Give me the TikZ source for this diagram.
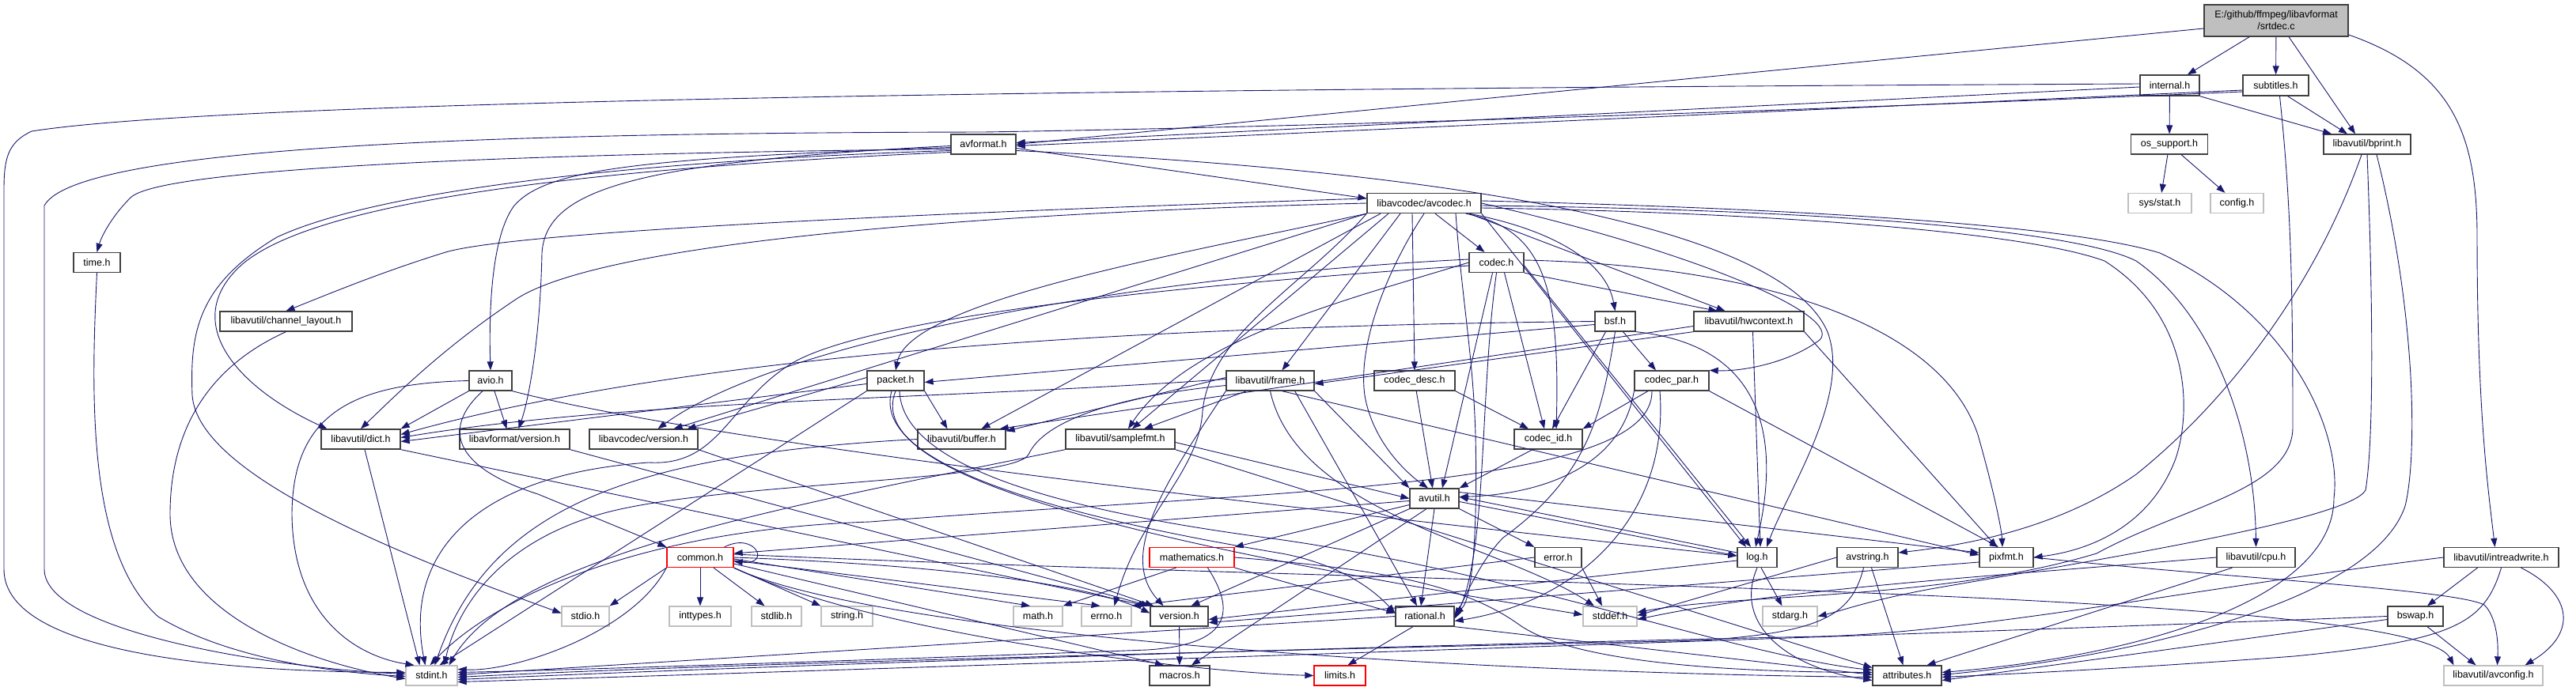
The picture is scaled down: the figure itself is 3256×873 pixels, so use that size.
\documentclass[tikz,border=0pt]{standalone}
\usepackage{fontspec}
\setmainfont{Liberation Sans}
\usetikzlibrary{arrows.meta}
\definecolor{ec}{RGB}{25,25,112}
\definecolor{nbc}{RGB}{64,64,64}
\definecolor{gbc}{RGB}{191,191,191}
\definecolor{srcf}{RGB}{191,191,191}
\begin{document}
\begin{tikzpicture}[x=1pt,y=-1pt,
  nd/.style={draw=nbc, line width=1.3pt, fill=white, inner sep=0pt, minimum height=25pt, minimum width=#1, font=\fontsize{12.5}{15}\selectfont},
  gry/.style={draw=gbc},
  redb/.style={draw=red},
  e/.style={draw=ec, line width=0.9pt, -{Triangle[length=11pt,width=8pt]}}]
\fill[white] (0,0) rectangle (3256,873);
\useasboundingbox (0,0) rectangle (3256,873);
% ---------------- nodes
\node[nd=182, minimum height=40, fill=srcf, align=center] (src) at (2877,26) {E:/github/ffmpeg/libavformat\\/srtdec.c};
\node[nd=75, minimum height=26] (internal) at (2742.5,108) {internal.h};
\node[nd=83, minimum height=26] (subtitles) at (2876.5,108) {subtitles.h};
\node[nd=97] (ossupport) at (2742,182.5) {os\_support.h};
\node[nd=110] (bprint) at (2992,182.5) {libavutil/bprint.h};
\node[nd=80, gry] (sysstat) at (2730,257) {sys/stat.h};
\node[nd=67, gry] (config) at (2827.5,257) {config.h};
\node[nd=82] (avformat) at (1243,182.5) {avformat.h};
\node[nd=144] (avcodec) at (1800,257) {libavcodec/avcodec.h};
\node[nd=69] (codec) at (1891.5,332) {codec.h};
\node[nd=51] (bsf) at (2041.5,406.5) {bsf.h};
\node[nd=139] (hwcontext) at (2210.5,406.5) {libavutil/hwcontext.h};
\node[nd=59] (time) at (122.5,332) {time.h};
\node[nd=167] (chlayout) at (361.5,406.5) {libavutil/channel\_layout.h};
\node[nd=54] (avio) at (620,481.5) {avio.h};
\node[nd=100] (dict) at (456,555.5) {libavutil/dict.h};
\node[nd=139] (lfversion) at (650.5,555.5) {libavformat/version.h};
\node[nd=137] (lcversion) at (813.5,555.5) {libavcodec/version.h};
\node[nd=60, gry] (stdio) at (740,779.5) {stdio.h};
\node[nd=65, gry] (stdint) at (545.5,854.5) {stdint.h};
\node[nd=72] (packet) at (1132,481.5) {packet.h};
\node[nd=111] (buffer) at (1215.5,555.5) {libavutil/buffer.h};
\node[nd=138] (samplefmt) at (1416,555.5) {libavutil/samplefmt.h};
\node[nd=111] (frame) at (1605.5,481.5) {libavutil/frame.h};
\node[nd=84, redb] (common) at (885,705) {common.h};
\node[nd=78, gry] (inttypes) at (885,779.5) {inttypes.h};
\node[nd=63, gry] (stdlib) at (981.5,779.5) {stdlib.h};
\node[nd=65, gry] (string) at (1070.5,779.5) {string.h};
\node[nd=62, gry] (math) at (1312,779.5) {math.h};
\node[nd=63, gry] (errno) at (1398.5,779.5) {errno.h};
\node[nd=73] (version) at (1490.5,779.5) {version.h};
\node[nd=107, redb] (mathematics) at (1506.5,705) {mathematics.h};
\node[nd=76] (macros) at (1491,854.5) {macros.h};
\node[nd=102] (codecdesc) at (1788,481.5) {codec\_desc.h};
\node[nd=94] (codecpar) at (2113,481.5) {codec\_par.h};
\node[nd=86] (codecid) at (1957,555.5) {codec\_id.h};
\node[nd=62] (avutil) at (1813,630.5) {avutil.h};
\node[nd=59] (error) at (1969.5,705) {error.h};
\node[nd=50] (log) at (2221,705) {log.h};
\node[nd=77] (avstring) at (2360.5,705) {avstring.h};
\node[nd=74] (rational) at (1801,779.5) {rational.h};
\node[nd=68, gry] (stddef) at (2035,779.5) {stddef.h};
\node[nd=69, gry] (stdarg) at (2262.5,779.5) {stdarg.h};
\node[nd=65, redb] (limits) at (1693.5,854.5) {limits.h};
\node[nd=87] (attributes) at (2410.5,854.5) {attributes.h};
\node[nd=68] (pixfmt) at (2536,705) {pixfmt.h};
\node[nd=99] (cpu) at (2851.5,705) {libavutil/cpu.h};
\node[nd=145] (intreadwrite) at (3161.5,705) {libavutil/intreadwrite.h};
\node[nd=70] (bswap) at (3053,779.5) {bswap.h};
\node[nd=125, gry] (avconfig) at (3151.5,854.5) {libavutil/avconfig.h};
% ---------------- edges
% srtdec.c
\draw[e] ([yshift=-10pt]src.west) -- (avformat.east);
\draw[e] (src) -- (internal);
\draw[e] (src) -- (subtitles);
\draw[e] ([xshift=16pt]src.south) -- ([xshift=-15pt]bprint.north);
\draw[e] ([yshift=-18pt]src.east) .. controls (3100,90) and (3131,170) .. (3131,300) .. controls (3131,520) and (3145,620) .. ([xshift=-8pt]intreadwrite.north);
% internal.h
\draw[e] ([yshift=-2pt]internal.west) -- ([yshift=2pt]avformat.east);
\draw[e] (internal) -- (ossupport);
\draw[e] (internal.south east) -- ([xshift=-45pt]bprint.north);
\draw[e] ([yshift=2pt]internal.west) .. controls (1500,112) and (300,125) .. (40,166) .. controls (10,180) and (5,200) .. (5,240) -- (5,720) .. controls (5,830) and (300,850) .. ([yshift=4pt]stdint.west);
% subtitles.h
\draw[e] ([yshift=-6pt]subtitles.west) -- ([yshift=-2pt]avformat.east);
\draw[e] ([xshift=15pt]subtitles.south) -- ([xshift=-25pt]bprint.north);
\draw[e] ([yshift=-8pt]subtitles.west) .. controls (2400,135) and (1700,160) .. (1243,167) .. controls (700,168) and (100,180) .. (56,260) -- (56,720) .. controls (56,800) and (350,845) .. ([yshift=2pt]stdint.west);
\draw[e] ([xshift=5pt]subtitles.south) .. controls (2895,250) and (2898,350) .. (2898,540) .. controls (2898,620) and (2760,640) .. (2650,700) .. controls (2450,760) and (2200,750) .. ([yshift=5pt]stddef.east);
% os_support.h
\draw[e] (ossupport) -- (sysstat);
\draw[e] (ossupport) -- (config);
% bprint.h
\draw[e] ([xshift=-7pt]bprint.south) .. controls (2920,380) and (2800,520) .. (2700,600) .. controls (2600,670) and (2480,690) .. ([yshift=6pt]avstring.east);
\draw[e] (bprint.south) .. controls (3000,400) and (3000,560) .. (2990,620) .. controls (2970,655) and (2700,700) .. (2440,745) .. controls (2360,760) and (2330,772) .. (stdarg.east);
\draw[e] ([xshift=12pt]bprint.south) .. controls (3055,400) and (3055,580) .. (3040,640) .. controls (3000,760) and (2700,830) .. ([yshift=1pt]attributes.east);
% avformat.h
\draw[e] ([yshift=-5pt]avformat.east) -- ([yshift=6pt]avcodec.west);
\draw[e] ([yshift=-8pt]avformat.east) .. controls (1800,215) and (2250,280) .. (2310,420) .. controls (2340,500) and (2260,620) .. ([xshift=12pt]log.north);
\draw[e] ([yshift=-6pt]avformat.west) .. controls (600,195) and (200,215) .. (165,250) .. controls (140,275) and (128,300) .. (time.north);
\draw[e] ([yshift=-8pt]avformat.west) .. controls (900,200) and (500,230) .. (350,300) .. controls (250,360) and (240,420) .. (243,500) .. controls (250,600) and (500,700) .. ([yshift=4pt]stdio.west);
\draw[e] ([yshift=-10pt]avformat.west) .. controls (700,215) and (380,260) .. (300,340) .. controls (230,410) and (300,490) .. ([xshift=8pt]dict.north west);
\draw[e] ([yshift=-4pt]avformat.west) .. controls (800,200) and (690,215) .. (650,260) .. controls (620,300) and (618,400) .. (avio.north);
\draw[e] ([yshift=-2pt]avformat.west) .. controls (800,205) and (690,240) .. (685,320) .. controls (683,420) and (670,500) .. ([xshift=5pt]lfversion.north);
% avio.h
\draw[e] (avio.west) .. controls (450,485) and (370,520) .. (369,650) .. controls (370,780) and (450,830) .. ([xshift=-22pt]stdint.north);
\draw[e] ([xshift=-10pt]avio.south) .. controls (560,540) and (570,590) .. (680,625) -- (common.north west);
\draw[e] (avio.south west) -- (dict.north east);
\draw[e] (avio.south east) .. controls (900,560) and (1600,640) .. ([yshift=2pt]log.west);
\draw[e] ([xshift=5pt]avio.south) -- ([xshift=-10pt]lfversion.north);
% version headers
\draw[e] (lfversion.south east) -- (version.north west);
\draw[e] (lcversion.south east) -- ([xshift=5pt]version.north west);
% avcodec.h
\draw[e] ([xshift=-15pt]avcodec.south) -- (codecdesc.north);
\draw[e] (avcodec.south) .. controls (1760,330) and (1715,430) .. (1725,500) .. controls (1735,560) and (1780,600) .. ([xshift=-8pt]avutil.north);
\draw[e] ([xshift=14pt]avcodec.south) -- ([xshift=-15pt]codec.north);
\draw[e] ([xshift=-20pt]avcodec.south east) .. controls (1950,290) and (1972,360) .. ([xshift=10pt]codecid.north);
\draw[e] ([xshift=-16pt]avcodec.south east) .. controls (1960,290) and (2030,330) .. (bsf.north);
\draw[e] ([xshift=-16pt]avcodec.south east) -- ([xshift=-30pt]hwcontext.north);
\draw[e] (avcodec.east) .. controls (2150,320) and (2330,400) .. (2300,430) .. controls (2260,460) and (2200,470) .. (codecpar.north east);
\draw[e] ([yshift=3pt]avcodec.east) .. controls (2200,262) and (2600,280) .. (2730,320) .. controls (2900,400) and (2960,550) .. (2950,630) .. controls (2950,760) and (2700,830) .. ([yshift=4pt]attributes.east);
\draw[e] ([yshift=-3pt]avcodec.east) .. controls (2300,265) and (2620,290) .. (2700,330) .. controls (2800,400) and (2850,550) .. (cpu.north);
\draw[e] ([yshift=-6pt]avcodec.east) .. controls (2200,268) and (2550,290) .. (2660,330) .. controls (2770,400) and (2770,520) .. (2750,580) .. controls (2720,660) and (2650,695) .. (pixfmt.east);
\draw[e] (avcodec.south east) -- ([xshift=-14pt]log.north);
\draw[e] (avcodec.south west) .. controls (1500,320) and (1150,380) .. (packet.north);
\draw[e] ([xshift=-30pt]avcodec.south) -- ([xshift=15pt]frame.north);
\draw[e] ([xshift=-45pt]avcodec.south) -- ([xshift=15pt]samplefmt.north);
\draw[e] ([xshift=-55pt]avcodec.south) -- ([xshift=25pt]buffer.north);
\draw[e] (avcodec.south west) .. controls (1650,360) and (1530,420) .. (1520,520) .. controls (1515,600) and (1440,650) .. ([xshift=10pt]errno.north);
\draw[e] (avcodec.south west) -- ([xshift=38pt]lcversion.north);
\draw[e] ([yshift=6pt]avcodec.west) .. controls (1300,265) and (650,290) .. (560,320) .. controls (480,345) and (420,370) .. (chlayout.north);
\draw[e] (avcodec.west) .. controls (1200,270) and (750,310) .. (650,380) .. controls (560,440) and (500,500) .. (dict.north);
\draw[e] ([xshift=40pt]avcodec.south) .. controls (1848,380) and (1862,450) .. (1865,550) .. controls (1868,680) and (1860,760) .. ([yshift=3pt]rational.east);
% codec.h
\draw[e] ([xshift=-5pt]codec.south) -- ([xshift=10pt]avutil.north);
\draw[e] (codec.south east) -- ([xshift=-40pt]hwcontext.north);
\draw[e] ([yshift=-4pt]codec.east) -- ([xshift=-8pt]log.north);
\draw[e] ([yshift=3pt]codec.east) .. controls (2200,335) and (2450,400) .. (2500,550) .. controls (2520,620) and (2530,670) .. ([xshift=-5pt]pixfmt.north);
\draw[e] (codec.south) .. controls (1870,500) and (1880,700) .. ([yshift=-3pt]rational.east);
\draw[e] (codec.west) .. controls (1700,380) and (1500,430) .. ([xshift=10pt]samplefmt.north);
\draw[e] ([xshift=10pt]codec.south) -- ([xshift=-5pt]codecid.north);
\draw[e] ([yshift=4pt]codec.west) .. controls (1500,345) and (1000,420) .. ([xshift=18pt]lcversion.north);
\draw[e] ([yshift=-4pt]codec.west) .. controls (1500,360) and (1100,400) .. (1000,460) .. controls (920,510) and (910,590) .. (820,585) .. controls (600,600) and (510,700) .. ([xshift=-8pt]stdint.north);
% bsf.h
\draw[e] (bsf.west) .. controls (1500,412) and (900,440) .. ([yshift=6pt]dict.east);
\draw[e] (bsf.south east) .. controls (2260,440) and (2240,600) .. ([xshift=-2pt]log.north);
\draw[e] (bsf.south) .. controls (2025,520) and (2010,600) .. (1900,680) .. controls (1870,710) and (1850,760) .. (rational.east);
\draw[e] ([xshift=-12pt]bsf.south) -- ([xshift=5pt]codecid.north);
\draw[e] ([xshift=10pt]bsf.south) -- ([xshift=-20pt]codecpar.north);
\draw[e] ([yshift=-4pt]bsf.west) -- ([yshift=-2pt]packet.east);
% codec_desc.h, codec_id.h
\draw[e] (codecdesc) -- (avutil);
\draw[e] (codecdesc.south east) -- ([xshift=-25pt]codecid.north);
\draw[e] ([xshift=-20pt]codecid.south) -- (avutil.north east);
% codec_par.h
\draw[e] (codecpar.south west) .. controls (2050,590) and (1950,625) .. ([yshift=2pt]avutil.east);
\draw[e] ([xshift=-15pt]codecpar.south) .. controls (2110,650) and (2000,760) .. ([yshift=-6pt]rational.east);
\draw[e] ([xshift=-25pt]codecpar.south) .. controls (2090,620) and (1600,620) .. (1100,660) .. controls (800,670) and (620,760) .. ([xshift=-2pt]stdint.north);
\draw[e] (codecpar.south east) -- ([xshift=-10pt]pixfmt.north);
\draw[e] ([xshift=-30pt]codecpar.south) -- (codecid.north east);
% packet.h
\draw[e] (packet.south) .. controls (1090,600) and (1400,680) .. ([yshift=2pt]stddef.west);
\draw[e] (packet.south west) -- ([xshift=10pt]stdint.north);
\draw[e] ([xshift=5pt]packet.south) .. controls (1140,580) and (1300,640) .. (1600,680) .. controls (1900,720) and (2200,830) .. ([yshift=7pt]attributes.west);
\draw[e] (packet.south east) -- ([xshift=-18pt]buffer.north);
\draw[e] ([yshift=-4pt]packet.west) -- ([yshift=-3pt]dict.east);
\draw[e] ([xshift=-5pt]packet.south) .. controls (1100,590) and (1350,655) .. (1620,700) .. controls (1700,715) and (1740,750) .. ([yshift=4pt]rational.west);
\draw[e] ([yshift=4pt]packet.west) -- ([xshift=55pt]lcversion.north);
% hwcontext.h
\draw[e] ([yshift=-6pt]hwcontext.west) -- ([xshift=-8pt]buffer.north east);
\draw[e] (hwcontext.south west) -- ([yshift=-4pt]frame.east);
\draw[e] ([xshift=5pt]hwcontext.south) -- ([xshift=4pt]log.north);
\draw[e] (hwcontext.south east) -- ([xshift=-12pt]pixfmt.north);
% frame.h
\draw[e] (frame.south) .. controls (1640,650) and (1900,690) .. ([xshift=-20pt]stddef.north);
\draw[e] ([yshift=-6pt]frame.west) .. controls (1420,500) and (1320,530) .. (1300,575) .. controls (1280,610) and (900,610) .. (760,650) .. controls (620,690) and (575,780) .. ([xshift=16pt]stdint.north);
\draw[e] (frame.south east) -- (avutil.north west);
\draw[e] ([yshift=4pt]frame.west) -- ([yshift=-3pt]buffer.north east);
\draw[e] ([yshift=2pt]frame.west) .. controls (1200,505) and (800,505) .. ([yshift=2pt]dict.east);
\draw[e] ([xshift=-25pt]frame.south east) -- ([xshift=-10pt]rational.north);
\draw[e] ([xshift=-30pt]frame.south) -- ([xshift=30pt]samplefmt.north);
\draw[e] ([xshift=15pt]frame.south) -- ([yshift=3pt]pixfmt.west);
\draw[e] (frame.south west) .. controls (1480,600) and (1410,700) .. ([xshift=-20pt]version.north);
% samplefmt.h, buffer.h, channel_layout.h, time.h, dict.h
\draw[e] (samplefmt.south west) .. controls (1000,640) and (650,700) .. ([xshift=22pt]stdint.north);
\draw[e] ([yshift=-4pt]samplefmt.east) -- (avutil.west);
\draw[e] (samplefmt.south east) -- ([yshift=10pt]attributes.west);
\draw[e] (buffer.west) .. controls (800,575) and (620,640) .. ([xshift=4pt]stdint.north);
\draw[e] (chlayout.south) .. controls (250,470) and (215,560) .. (215,650) .. controls (215,780) and (400,840) .. ([yshift=-4pt]stdint.west);
\draw[e] (time.south) .. controls (115,500) and (110,700) .. (200,780) .. controls (300,840) and (450,852) .. ([yshift=-1pt]stdint.west);
\draw[e] ([xshift=5pt]dict.south) -- ([xshift=-15pt]stdint.north);
\draw[e] (dict.south east) -- ([xshift=-3pt]version.north west);
% avutil.h
\draw[e] ([yshift=-3pt]avutil.west) -- ([yshift=5pt]common.east);
\draw[e] (avutil.south east) -- (error.north west);
\draw[e] (avutil.south) -- ([xshift=-5pt]rational.north);
\draw[e] (avutil.south west) -- ([xshift=15pt]version.north);
\draw[e] ([xshift=-10pt]avutil.south) -- ([xshift=15pt]macros.north);
\draw[e] ([yshift=-8pt]avutil.west) -- (mathematics.north east);
\draw[e] ([yshift=-4pt]avutil.east) -- ([yshift=2pt]log.west);
\draw[e] ([yshift=8pt]avutil.east) -- ([yshift=6pt]pixfmt.west);
% common.h
\draw[e] ([yshift=-4pt]common.east) -- ([xshift=-8pt]errno.north);
\draw[e] (common.south) -- (inttypes.north);
\draw[e] (common.south east) .. controls (1100,800) and (1500,850) .. (limits.west);
\draw[e] ([yshift=-2pt]common.east) -- ([xshift=-10pt]math.north);
\draw[e] (common.south west) .. controls (800,800) and (650,850) .. ([yshift=8pt]stdint.east);
\draw[e] (common.south west) -- (stdio.north east);
\draw[e] ([xshift=17pt]common.south) -- ([xshift=-15pt]stdlib.north);
\draw[e] (common.south east) -- (string.north west);
\draw[e] (common.south east) .. controls (1100,800) and (1800,850) .. ([yshift=-2pt]attributes.west);
\draw[e] ([yshift=-8pt]common.east) -- ([xshift=-20pt]macros.north);
\draw[e] (common.east) .. controls (1200,715) and (1380,740) .. ([yshift=4pt]version.west);
\draw[e] ([yshift=4pt]common.east) .. controls (1800,740) and (3050,745) .. ([xshift=-50pt]avconfig.north);
\draw[e] ([xshift=-12pt]common.north east) .. controls (955,672) and (975,715) .. ([yshift=-5pt]common.east);
% mathematics.h
\draw[e] ([xshift=20pt]mathematics.south) .. controls (1560,770) and (1560,815) .. (1450,822) .. controls (1100,835) and (700,848) .. ([yshift=4pt]stdint.east);
\draw[e] ([xshift=-20pt]mathematics.south) -- (math.north east);
\draw[e] (mathematics.east) .. controls (1750,720) and (1850,740) .. (1920,790) .. controls (1990,840) and (2200,850) .. ([yshift=4pt]attributes.west);
\draw[e] (mathematics.south east) -- ([yshift=4pt]rational.west);
% error.h
\draw[e] (error.west) -- (errno.north east);
\draw[e] (error.south east) -- ([xshift=-10pt]stddef.north);
% log.h
\draw[e] ([xshift=5pt]log.south) -- ([xshift=-10pt]stdarg.north);
\draw[e] (log.south) .. controls (2190,790) and (2260,845) .. ([yshift=-6pt]attributes.west);
\draw[e] ([yshift=-4pt]log.west) -- ([yshift=-4pt]version.east);
\draw[e] ([yshift=6pt]log.west) -- ([yshift=2pt]avutil.east);
% rational.h
\draw[e] (rational.west) -- ([yshift=1pt]stdint.east);
\draw[e] ([xshift=-15pt]rational.south) -- ([xshift=10pt]limits.north);
\draw[e] (rational.south east) -- ([yshift=1pt]attributes.west);
% pixfmt.h
\draw[e] (pixfmt.east) .. controls (2800,730) and (3100,745) .. (3140,765) .. controls (3155,780) and (3158,810) .. ([xshift=5pt]avconfig.north);
\draw[e] ([yshift=-6pt]pixfmt.west) -- ([yshift=-8pt]version.east);
% avstring.h
\draw[e] (avstring.west) -- ([yshift=1pt]stddef.east);
\draw[e] ([xshift=-5pt]avstring.south) .. controls (2340,780) and (2300,800) .. (2150,810) .. controls (1500,825) and (900,840) .. ([yshift=-2pt]stdint.east);
\draw[e] ([xshift=5pt]avstring.south) -- ([xshift=-5pt]attributes.north);
% version.h
\draw[e] (version) -- (macros);
% cpu.h
\draw[e] (cpu.west) .. controls (2500,730) and (2250,745) .. ([yshift=-4pt]stddef.east);
\draw[e] ([xshift=-30pt]cpu.south) -- ([xshift=25pt]attributes.north);
% intreadwrite.h
\draw[e] (intreadwrite.west) .. controls (2800,740) and (2500,800) .. (2300,805) .. controls (1600,820) and (900,845) .. ([yshift=-5pt]stdint.east);
\draw[e] ([xshift=25pt]intreadwrite.south) .. controls (3250,750) and (3260,800) .. ([xshift=40pt]avconfig.north);
\draw[e] (intreadwrite.south) .. controls (3140,790) and (3100,810) .. (2900,830) .. controls (2700,845) and (2550,852) .. ([yshift=-2pt]attributes.east);
\draw[e] ([xshift=-30pt]intreadwrite.south) -- ([xshift=15pt]bswap.north);
% bswap.h
\draw[e] (bswap.west) .. controls (2500,800) and (1000,850) .. ([yshift=-8pt]stdint.east);
\draw[e] ([xshift=15pt]bswap.south) -- ([xshift=-22pt]avconfig.north);
\draw[e] ([yshift=-4pt]bswap.west) -- ([yshift=-6pt]attributes.east);
\end{tikzpicture}
\end{document}
